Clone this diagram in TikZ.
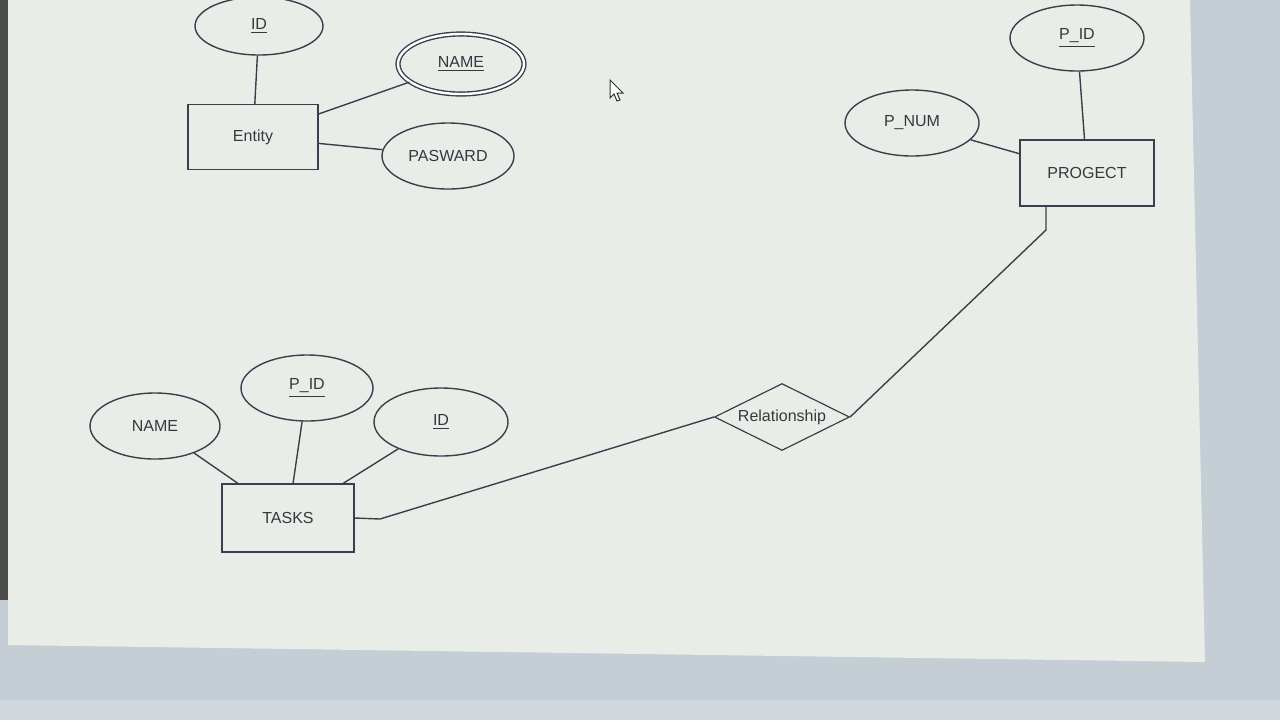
\documentclass[tikz,border=0pt]{standalone}
\usepackage{fontspec}
\setmainfont{Liberation Sans}
\usetikzlibrary{shapes.geometric,shapes.misc}
\definecolor{ink}{HTML}{3A3F50}
\definecolor{txt}{HTML}{35383F}
\definecolor{screen}{HTML}{E8EEE7}
\definecolor{bezel}{HTML}{C4CED4}
\tikzset{
  attr/.style={ellipse, draw=ink, line width=0.7pt, inner sep=0pt, text=txt, font=\fontsize{8}{9}\selectfont},
  ent/.style={rectangle, draw=ink, line width=0.6pt, inner sep=0pt, text=txt, font=\fontsize{8}{9}\selectfont},
  rel/.style={diamond, shape aspect=2.2, draw=ink, line width=0.6pt, inner sep=0pt, text=txt, font=\fontsize{8}{9}\selectfont},
  link/.style={draw=ink, line width=0.7pt},
}
\begin{document}
\begin{tikzpicture}[x=0.5pt,y=-0.5pt]
\useasboundingbox (0,0) rectangle (1280,720);
% photo background
\fill[bezel] (0,0) rectangle (1280,720);
\fill[screen] (8,0) -- (1190,0) -- (1205,662) -- (8,645) -- cycle;
\fill[black!70] (0,0) rectangle (8,600);
\fill[bezel!80!white] (0,700) rectangle (1280,720);
% cursor
\draw[black!80, line width=0.5pt, fill=white] (610,80) -- (610,98) -- (614,94) -- (617,101) -- (620,100) -- (617,93) -- (623,93) -- cycle;

% Entity group
\node[ent, minimum width=65pt, minimum height=32.5pt] (entity) at (253,137) {Entity};
\node[attr, minimum width=64pt, minimum height=29pt] (eid) at (259,26) {\underline{ID}};
\node[attr, double, double distance=1.2pt, minimum width=63pt, minimum height=30pt] (ename) at (461,64) {\underline{NAME}};
\node[attr, minimum width=66pt, minimum height=33pt] (epass) at (448,156) {PASWARD};
\draw[link] (eid) -- (entity);
\draw[link] (ename) -- (entity);
\draw[link] (epass) -- (entity);

% PROGECT group
\node[ent, minimum width=67pt, minimum height=33pt] (proj) at (1087,173) {PROGECT};
\node[attr, minimum width=67pt, minimum height=33pt] (ppid) at (1077,38) {\underline{P\_ID}};
\node[attr, minimum width=67pt, minimum height=33pt] (pnum) at (912,123) {P\_NUM};
\draw[link] (ppid) -- (proj);
\draw[link] (pnum) -- (proj);

% Relationship
\node[rel, minimum width=67.5pt, minimum height=33.5pt] (relship) at (782,417) {Relationship};
\coordinate (pbend) at (1046,230);
\draw[link] (proj.south -| pbend) -- (pbend) -- (relship.east);

% TASKS group
\node[ent, minimum width=66pt, minimum height=34pt] (tasks) at (288,518) {TASKS};
\node[attr, minimum width=65pt, minimum height=33pt] (tname) at (155,426) {NAME};
\node[attr, minimum width=66pt, minimum height=33pt] (tpid) at (307,388) {\underline{P\_ID}};
\node[attr, minimum width=67pt, minimum height=34pt] (tid) at (441,422) {\underline{ID}};
\draw[link] (tname) -- (tasks);
\draw[link] (tpid) -- (tasks);
\draw[link] (tid) -- (tasks);
\coordinate (tbend) at (380,519);
\draw[link] (tasks.east) -- (tbend) -- (relship.west);
\end{tikzpicture}
\end{document}
